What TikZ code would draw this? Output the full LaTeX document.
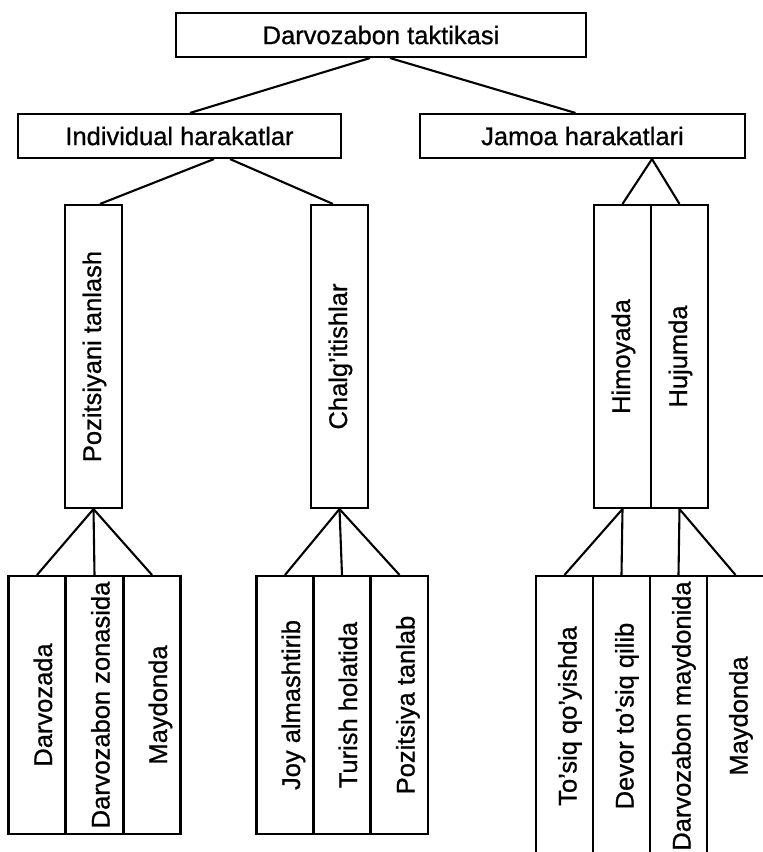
\documentclass[tikz,border=0pt]{standalone}
\usepackage{fontspec}
\setmainfont{Liberation Sans}
\newfontfamily\scanfont{Liberation Sans}[FakeBold=0.8]
\usetikzlibrary{calc}

\begin{document}
\begin{tikzpicture}[x=1pt, y=-1pt, line width=2.1pt,
  hbox/.style={draw, minimum height=44pt, inner sep=0pt, font=\scanfont\fontsize{25.5}{30}\selectfont},
  vbox/.style={draw, rotate=90, minimum height=57pt, inner sep=0pt, text depth=0pt, font=\scanfont\fontsize{25.5}{30}\selectfont}]
\useasboundingbox (0,0) rectangle (763,852);
\clip (0,0) rectangle (763,852);
% upper levels
\node[hbox, minimum width=410pt] (root) at (381,35) {Darvozabon taktikasi};
\node[hbox, minimum width=323pt] (indiv) at (179.5,136) {Individual harakatlar};
\node[hbox, minimum width=325pt] (jamoa) at (582.5,136) {Jamoa harakatlari};
\foreach \n/\c/\t in {pozit/93.5/{Pozitsiyani tanlash}, chalg/339.5/{Chalg’itishlar}, himoya/622.5/Himoyada, hujum/679.5/Hujumda}
  { \node[vbox, minimum width=303pt, text height=15pt] (\n) at (\c,356.5) {\t}; }
% bottom columns
\foreach \n/\c/\t in {darv/37/Darvozada, zona/94.5/{Darvozabon zonasida}, maydA/152/Maydonda, joy/285/{Joy almashtirib}, turish/342/{Turish holatida}, pozt/399.5/{Pozitsiya tanlab}}
  { \node[vbox, minimum width=258pt, text height=30pt] (\n) at (\c,705) {\t}; }
\foreach \n/\c/\t in {tosiq/564.5/{To’siq qo’yishda}, devor/621.5/{Devor to’siq qilib}, darvm/678.5/{Darvozabon maydonida}, maydB/735.5/Maydonda}
  { \node[vbox, minimum width=280pt, text height=24pt] (\n) at (\c,716) {\t}; }
% connectors
\draw ([xshift=-11pt]root.south) -- ([xshift=10.5pt]indiv.north);
\draw ([xshift=9pt]root.south) -- ([xshift=-7pt]jamoa.north);
\draw ([xshift=34.5pt]indiv.south) -- ([xshift=6.5pt]pozit.east);
\draw ([xshift=50.5pt]indiv.south) -- ([xshift=-6.5pt]chalg.east);
\draw ([xshift=69.5pt]jamoa.south) -- (himoya.east);
\draw ([xshift=69.5pt]jamoa.south) -- (hujum.east);
\foreach \a/\b in {pozit/darv, pozit/zona, pozit/maydA, chalg/joy, chalg/turish, chalg/pozt, himoya/tosiq, himoya/devor, hujum/darvm, hujum/maydB}
  { \draw (\a.west) -- (\b.east); }
\end{tikzpicture}
\end{document}
